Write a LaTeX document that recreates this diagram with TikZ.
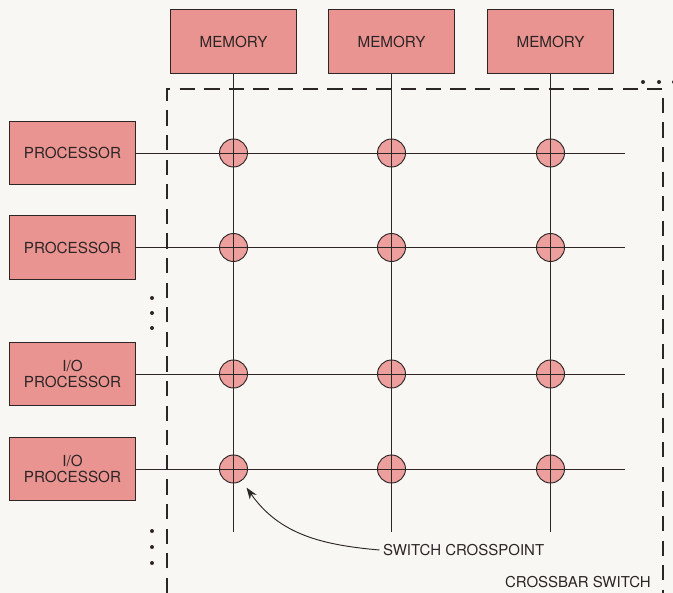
\documentclass[tikz,border=0pt]{standalone}
\usepackage{fontspec}
\setmainfont{TeX Gyre Heros}
\usetikzlibrary{arrows.meta, positioning}
\usepackage{xcolor}
\definecolor{mpink}{RGB}{234,148,145}
\definecolor{mink}{RGB}{45,38,38}
\definecolor{mpaper}{RGB}{249,247,243}

\begin{document}
\begin{tikzpicture}[x=0.03cm, y=-0.03cm,
  box/.style={draw=mink, line width=1.1pt, fill=mpink, text=mink,
  minimum width=3.78cm, minimum height=1.9cm, align=center,
  font=\fontsize{13}{13.6}\selectfont},
  xpt/.style={circle, draw=mink, line width=0.8pt, fill=mpink!90,
  minimum size=0.84cm, inner sep=0pt},
  wire/.style={mink, line width=0.7pt},
  arr/.style={-{Stealth[length=10pt, width=7pt]}, mink, line width=0.8pt},
  lbl/.style={text=mink, inner sep=0pt, font=\fontsize{12.8}{14}\selectfont}
]
\fill[mpaper] (0,0) rectangle (673,593);
\useasboundingbox (0,0) rectangle (673,593);

% memories and processors
\node[box] (mem1) at (233.5,41.5) {MEMORY};
\node[box] (mem2) at (391.5,41.5) {MEMORY};
\node[box] (mem3) at (550.5,41.5) {MEMORY};
\node[box] (proc1) at (72.5,153) {PROCESSOR};
\node[box] (proc2) at (72.5,247.5) {PROCESSOR};
\node[box] (io1)   at (72.5,374) {I/O\\PROCESSOR};
\node[box] (io2)   at (72.5,469) {I/O\\PROCESSOR};

% crosspoints
\node[xpt] (x11) at (mem1 |- proc1) {};
\node[xpt] (x12) at (mem2 |- proc1) {};
\node[xpt] (x13) at (mem3 |- proc1) {};
\node[xpt] (x21) at (mem1 |- proc2) {};
\node[xpt] (x22) at (mem2 |- proc2) {};
\node[xpt] (x23) at (mem3 |- proc2) {};
\node[xpt] (x31) at (mem1 |- io1) {};
\node[xpt] (x32) at (mem2 |- io1) {};
\node[xpt] (x33) at (mem3 |- io1) {};
\node[xpt] (x41) at (mem1 |- io2) {};
\node[xpt] (x42) at (mem2 |- io2) {};
\node[xpt] (x43) at (mem3 |- io2) {};

% bus ends
\coordinate (bot1) at (mem1 |- 0,532);
\coordinate (bot2) at (mem2 |- 0,532);
\coordinate (bot3) at (mem3 |- 0,532);
\coordinate (end1) at (625,0 |- proc1);
\coordinate (end2) at (625,0 |- proc2);
\coordinate (end3) at (625,0 |- io1);
\coordinate (end4) at (625,0 |- io2);

\draw[wire] (mem1) -- (bot1);
\draw[wire] (mem2) -- (bot2);
\draw[wire] (mem3) -- (bot3);
\draw[wire] (proc1) -- (end1);
\draw[wire] (proc2) -- (end2);
\draw[wire] (io1) -- (end3);
\draw[wire] (io2) -- (end4);

% switch frame
\draw[mink, line width=0.9pt, dash pattern=on 13pt off 8pt]
  (167,593) -- (167,89) -- (663,89) -- (663,593);

% more units
\fill[mink] (152,298) circle (1.7pt);
\fill[mink] (152,313) circle (1.7pt);
\fill[mink] (152,328) circle (1.7pt);
\fill[mink] (152,531) circle (1.7pt);
\fill[mink] (152,547) circle (1.7pt);
\fill[mink] (152,563) circle (1.7pt);
\fill[mink] (643,82) circle (1.7pt);
\fill[mink] (659,82) circle (1.7pt);
\fill[mink] (674,82) circle (1.7pt);

% labels
\node[lbl, anchor=west] (swlbl) at (383,550) {SWITCH CROSSPOINT};
\node[lbl, anchor=east] (cblbl) at (651,582) {CROSSBAR SWITCH};
\draw[arr] ([xshift=-3pt]swlbl.west) to[out=175, in=-55]
  ([shift={(-55:7pt)}]x41.-55);
\end{tikzpicture}
\end{document}
